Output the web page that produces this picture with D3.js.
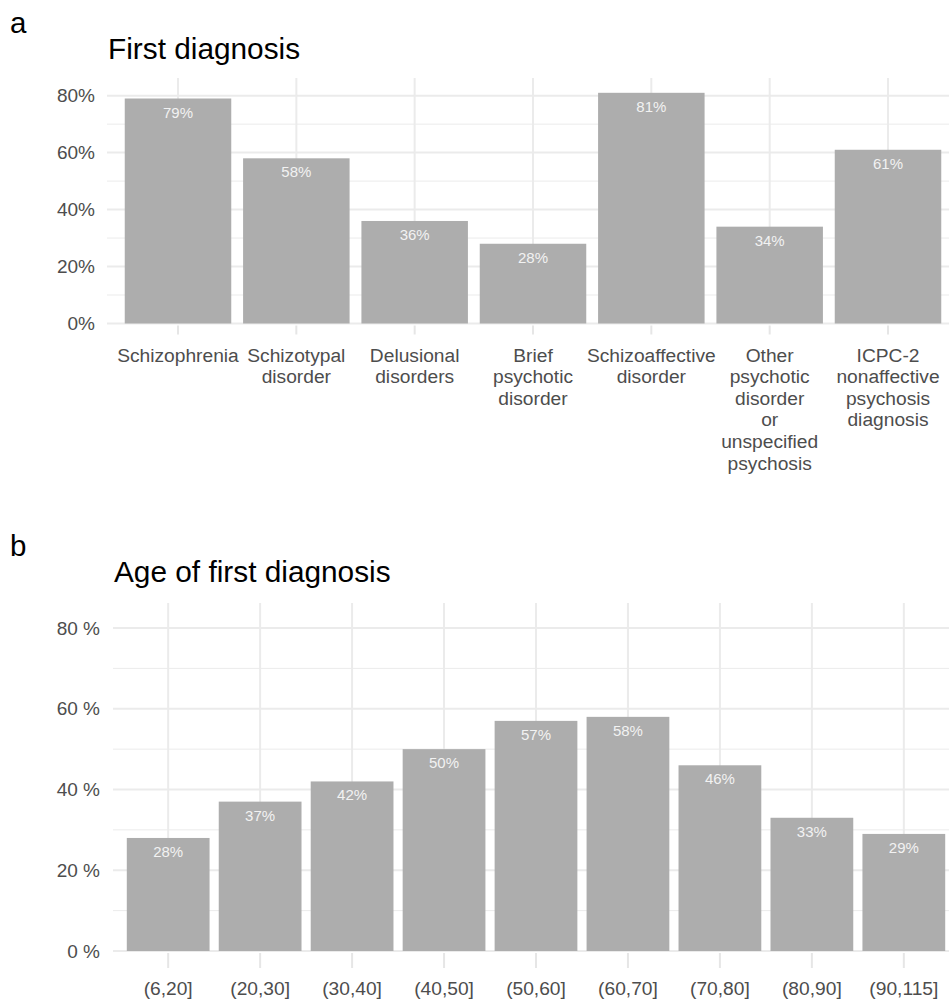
<!DOCTYPE html>
<html>
<head>
<meta charset="utf-8">
<script src="https://cdn.jsdelivr.net/npm/d3@7"></script>
<style>
  body { margin: 0; background: #fff; }
  svg { display: block; font-family: "Liberation Sans", Arial, sans-serif; }
</style>
</head>
<body>
<svg id="chart" width="949" height="999"></svg>
<script>
const diagnosisLabels = [
    "Schizophrenia",
    "Schizotypal\ndisorder",
    "Delusional\ndisorders",
    "Brief\npsychotic\ndisorder",
    "Schizoaffective\ndisorder",
    "Other\npsychotic\ndisorder\nor\nunspecified\npsychosis",
    "ICPC-2\nnonaffective\npsychosis\ndiagnosis"
];
const diagnosisValues = [79, 58, 36, 28, 81, 34, 61];

const ageLabels = ["(6,20]", "(20,30]", "(30,40]", "(40,50]", "(50,60]", "(60,70]", "(70,80]", "(80,90]", "(90,115]"];
const ageValues = [28, 37, 42, 50, 57, 58, 46, 33, 29];

const majorTicks = [0, 20, 40, 60, 80];
const minorTicks = [10, 30, 50, 70];

const svg = d3.select("#chart");

function drawPanel(p) {
    const g = svg.append("g");

    const x = d3.scaleBand()
        .domain(p.labels)
        .range([p.left, p.right])
        .paddingInner(0.1)
        .paddingOuter(0.15);

    const y = d3.scaleLinear().domain([0, 86.2]).range([p.zero, p.top]);

    // panel letter + title
    g.append("text").attr("x", 10).attr("y", p.letterY)
        .attr("font-size", 29.5).attr("fill", "#000").text(p.letter);
    g.append("text").attr("x", p.titleX).attr("y", p.titleY)
        .attr("font-size", 29.8).attr("fill", "#000").text(p.title);

    // grid
    g.selectAll(".minor").data(minorTicks).enter().append("line")
        .attr("x1", p.left).attr("x2", p.right)
        .attr("y1", d => y(d)).attr("y2", d => y(d))
        .attr("stroke", "#ebebeb").attr("stroke-width", 1);
    g.selectAll(".major").data(majorTicks).enter().append("line")
        .attr("x1", p.left).attr("x2", p.right)
        .attr("y1", d => y(d)).attr("y2", d => y(d))
        .attr("stroke", "#ebebeb").attr("stroke-width", 2);
    g.selectAll(".vgrid").data(p.labels).enter().append("line")
        .attr("x1", d => x(d) + x.bandwidth() / 2).attr("x2", d => x(d) + x.bandwidth() / 2)
        .attr("y1", p.top).attr("y2", p.zero)
        .attr("stroke", "#ebebeb").attr("stroke-width", 2);

    // ticks under the panel
    g.selectAll(".tick").data(p.labels).enter().append("line")
        .attr("x1", d => x(d) + x.bandwidth() / 2).attr("x2", d => x(d) + x.bandwidth() / 2)
        .attr("y1", p.zero + 2).attr("y2", p.zero + p.tickLen)
        .attr("stroke", "#e6e6e6").attr("stroke-width", 2);

    // bars
    g.selectAll(".bar").data(p.values).enter().append("rect")
        .attr("x", (d, i) => x(p.labels[i]))
        .attr("y", d => y(d))
        .attr("width", x.bandwidth())
        .attr("height", d => y(0) - y(d))
        .attr("fill", "#adadad");

    // value labels
    g.selectAll(".val").data(p.values).enter().append("text")
        .attr("x", (d, i) => x(p.labels[i]) + x.bandwidth() / 2)
        .attr("y", d => y(d) + 19)
        .attr("text-anchor", "middle")
        .attr("font-size", 15)
        .attr("fill", "#f2f2f2")
        .text(d => d + "%");

    // y labels
    g.selectAll(".ylab").data(majorTicks).enter().append("text")
        .attr("x", p.yLabelX)
        .attr("y", d => y(d) + 6.5)
        .attr("text-anchor", "end")
        .attr("font-size", 19)
        .attr("fill", "#4d4d4d")
        .text(p.yFormat);

    // x labels, multi-line
    const xl = g.selectAll(".xlab").data(p.labels).enter().append("text")
        .attr("text-anchor", "middle")
        .attr("font-size", 19.2)
        .attr("fill", "#4d4d4d");
    xl.each(function(d) {
        const t = d3.select(this);
        d.split("\n").forEach((line, k) => {
            t.append("tspan")
                .attr("x", x(d) + x.bandwidth() / 2)
                .attr("y", p.xLabelY + k * 21.6)
                .text(line);
        });
    });
}

drawPanel({
    letter: "a", letterY: 33,
    title: "First diagnosis", titleX: 108, titleY: 59,
    labels: diagnosisLabels, values: diagnosisValues,
    left: 107, right: 959, top: 78, zero: 323.5,
    tickLen: 11, yLabelX: 95, xLabelY: 361.5,
    yFormat: d => d + "%"
});

drawPanel({
    letter: "b", letterY: 556,
    title: "Age of first diagnosis", titleX: 114, titleY: 582,
    labels: ageLabels, values: ageValues,
    left: 113, right: 959, top: 603, zero: 951,
    tickLen: 17, yLabelX: 100, xLabelY: 995,
    yFormat: d => d + " %"
});
</script>
</body>
</html>
